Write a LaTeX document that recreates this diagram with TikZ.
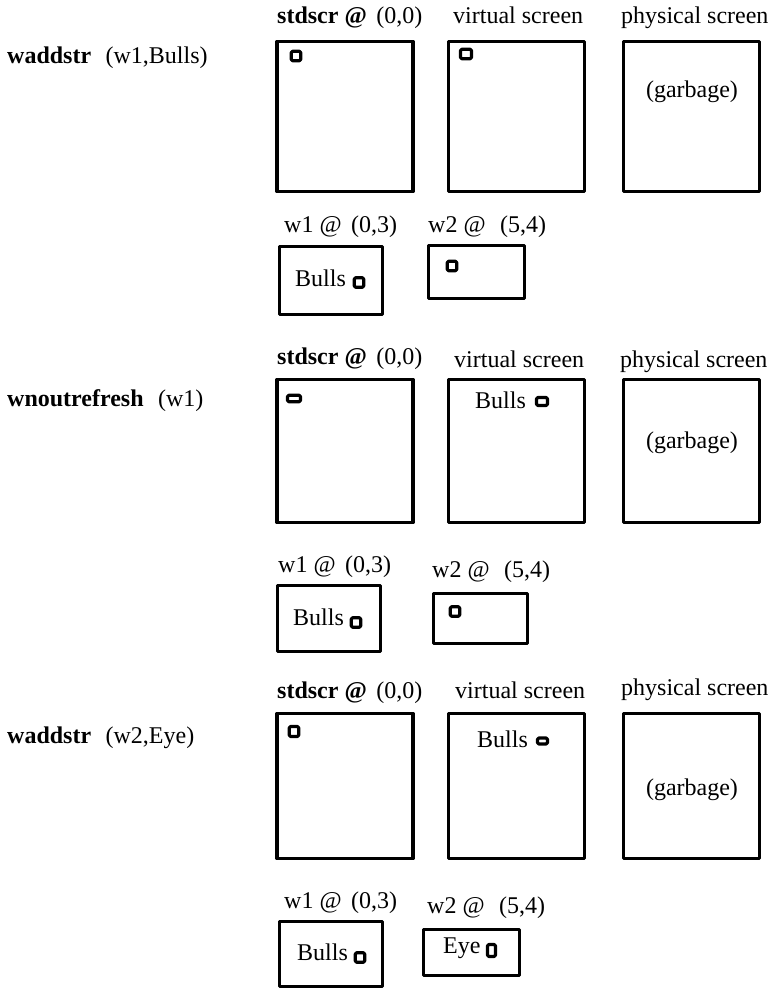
\documentclass[tikz,border=0pt]{standalone}
\usepackage{fontspec}
\setmainfont{Liberation Serif}

\begin{document}
\begin{tikzpicture}[x=1pt,y=-1pt,line join=round,
  txt/.style={font=\fontsize{24}{26}\selectfont,inner sep=0pt,anchor=base west},
  scr/.style={draw,line width=3.3pt,inner sep=0pt,outer sep=0pt,anchor=north west},
  cur/.style={draw,line width=3.2pt,rounded corners=1.4pt,inner sep=0pt,
    minimum width=9.5pt,minimum height=9.5pt}]
  \useasboundingbox (0,0) rectangle (773,989);

  % --- waddstr(w1,Bulls)
  \node[txt] (op1) at (7,63) {\textbf{waddstr}\hspace{0.6em}(w1,Bulls)};
  \node[txt] (lstd1) at (277,23) {\textbf{stdscr @}\hspace{0.4em}(0,0)};
  \node[txt] (lvirt1) at (453,23) {virtual screen};
  \node[txt] (lphys1) at (621,23) {physical screen};
  \node[scr,minimum width=136pt,minimum height=150pt] (std1) at (277,41.5) {};
  \node[scr,minimum width=136pt,minimum height=150pt] (virt1) at (448.5,41.5) {};
  \node[scr,minimum width=136pt,minimum height=150pt] (phys1) at (623.5,41.5) {};
  \node[cur] (cstd1) at (296,56) {};
  \node[cur,minimum width=11pt] (cvirt1) at (466,54) {};
  \node[txt,anchor=center] (garb1) at (692,92) {(garbage)};
  \node[txt] (lwa1) at (284,232) {w1 @\hspace{0.4em}(0,3)};
  \node[txt] (lwb1) at (428,232) {w2 @\hspace{0.6em}(5,4)};
  \node[scr,minimum width=103pt,minimum height=68pt] (wa1) at (279.5,246.5) {};
  \node[scr,minimum width=96pt,minimum height=53pt] (wb1) at (428.5,245.5) {};
  \node[txt] (ta1) at (295,286) {Bulls};
  \node[cur] (cwa1) at (359,282.5) {};
  \node[cur] (cwb1) at (452,266) {};

  % --- wnoutrefresh(w1)
  \node[txt] (op2) at (7,406) {\textbf{wnoutrefresh}\hspace{0.6em}(w1)};
  \node[txt] (lstd2) at (277,364) {\textbf{stdscr @}\hspace{0.4em}(0,0)};
  \node[txt] (lvirt2) at (454,367) {virtual screen};
  \node[txt] (lphys2) at (620,367) {physical screen};
  \node[scr,minimum width=136pt,minimum height=143pt] (std2) at (277,379.5) {};
  \node[scr,minimum width=136pt,minimum height=143pt] (virt2) at (448.5,379.5) {};
  \node[scr,minimum width=136pt,minimum height=143pt] (phys2) at (623.5,379.5) {};
  \node[cur,minimum width=13pt,minimum height=6.5pt] (cstd2) at (294,398.5) {};
  \node[txt] (tv2) at (475,408) {Bulls};
  \node[cur,minimum width=11pt,minimum height=8pt] (cvirt2) at (542,401.5) {};
  \node[txt,anchor=center] (garb2) at (692,443) {(garbage)};
  \node[txt] (lwa2) at (278,572) {w1 @\hspace{0.4em}(0,3)};
  \node[txt] (lwb2) at (432,577) {w2 @\hspace{0.6em}(5,4)};
  \node[scr,minimum width=103pt,minimum height=66pt] (wa2) at (277.5,585.5) {};
  \node[scr,minimum width=94pt,minimum height=50pt] (wb2) at (433.5,593.5) {};
  \node[txt] (ta2) at (293,625) {Bulls};
  \node[cur] (cwa2) at (356,622.5) {};
  \node[cur] (cwb2) at (455,611.5) {};

  % --- waddstr(w2,Eye)
  \node[txt] (op3) at (7,743) {\textbf{waddstr}\hspace{0.6em}(w2,Eye)};
  \node[txt] (lstd3) at (277,698) {\textbf{stdscr @}\hspace{0.4em}(0,0)};
  \node[txt] (lvirt3) at (455,698) {virtual screen};
  \node[txt] (lphys3) at (621,695) {physical screen};
  \node[scr,minimum width=136pt,minimum height=145pt] (std3) at (277,713.5) {};
  \node[scr,minimum width=136pt,minimum height=145pt] (virt3) at (448.5,713.5) {};
  \node[scr,minimum width=136pt,minimum height=145pt] (phys3) at (623.5,713.5) {};
  \node[cur,minimum height=10pt] (cstd3) at (294,731.5) {};
  \node[txt] (tv3) at (477,747) {Bulls};
  \node[cur,minimum width=10pt,minimum height=6pt] (cvirt3) at (542.5,741) {};
  \node[txt,anchor=center] (garb3) at (692,790) {(garbage)};
  \node[txt] (lwa3) at (284,908) {w1 @\hspace{0.4em}(0,3)};
  \node[txt] (lwb3) at (427,913) {w2 @\hspace{0.6em}(5,4)};
  \node[scr,minimum width=103pt,minimum height=65pt] (wa3) at (279.5,921.5) {};
  \node[scr,minimum width=96pt,minimum height=46pt] (wb3) at (423.5,929.5) {};
  \node[txt] (ta3) at (297,960) {Bulls};
  \node[cur] (cwa3) at (360,957.5) {};
  \node[txt] (tb3) at (443,953) {Eye};
  \node[cur,minimum width=8pt,minimum height=12pt] (cwb3) at (491.5,950.5) {};
\end{tikzpicture}
\end{document}
